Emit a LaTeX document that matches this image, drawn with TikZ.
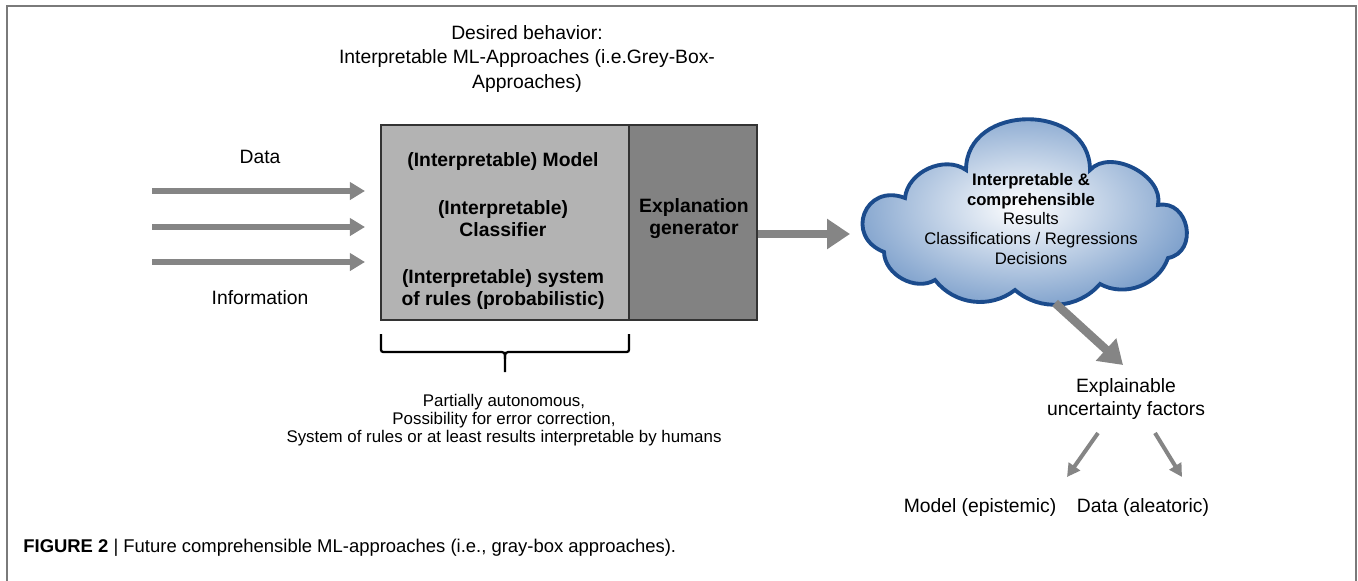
\documentclass[tikz,border=0pt]{standalone}
\usepackage{fontspec}
\setmainfont{Liberation Sans}
\usetikzlibrary{arrows.meta}
\definecolor{boxlight}{HTML}{B3B3B3}
\definecolor{boxdark}{HTML}{828282}
\definecolor{arrowgray}{HTML}{858585}
\definecolor{cloudline}{HTML}{1B4B8C}
\definecolor{cloudblue}{HTML}{7C9FCB}
\definecolor{framegray}{HTML}{7A7A7A}
\begin{document}
\begin{tikzpicture}[x=0.02cm, y=-0.02cm,
    txt/.style={font=\fontsize{11}{14}\selectfont, align=center, inner sep=0pt},
    boldtxt/.style={font=\fontsize{11}{12.5}\selectfont\bfseries, align=center, inner sep=0pt},
    inarrow/.style={draw=arrowgray, line width=0.12cm, -{Triangle[length=0.3cm, width=0.34cm]}},
    bigarrow/.style={draw=arrowgray, line width=0.17cm, -{Triangle[length=0.46cm, width=0.58cm]}},
    smallarrow/.style={draw=arrowgray, line width=0.08cm, -{Triangle[length=0.26cm, width=0.27cm]}}]
    \useasboundingbox (0,0) rectangle (1358,581);
    \draw[framegray, line width=1.5] (7,581) -- (7,6) -- (1356,6) -- (1356,581);
    % heading
    \node[txt, font=\fontsize{11}{14.2}\selectfont] (title) at (527,59)
        {Desired behavior:\\Interpretable ML-Approaches (i.e.Grey-Box-\\Approaches)};
    % the grey box
    \node[draw=black!80, line width=1.2, fill=boxlight, minimum width=4.96cm, minimum height=3.9cm, inner sep=0pt] (rulebox) at (505,222.5) {};
    \node[draw=black!80, line width=1.2, fill=boxdark, minimum width=2.56cm, minimum height=3.9cm, inner sep=0pt] (genbox) at (693,222.5) {};
    \node[boldtxt] (modeltxt) at (503,162) {(Interpretable) Model};
    \node[boldtxt] (classtxt) at (503,219) {(Interpretable)\\Classifier};
    \node[boldtxt] (rulestxt) at (503,289.5) {(Interpretable) system\\of rules (probabilistic)};
    \node[boldtxt] (gentxt) at (694,219) {Explanation\\generator};
    % inputs
    \node[txt] (data) at (260,157) {Data};
    \node[txt] (info) at (260,298) {Information};
    \coordinate (in1) at (152,191);
    \coordinate (in2) at (152,227);
    \coordinate (in3) at (152,262);
    \draw[inarrow, shorten >=0.3cm] (in1) -- (in1 -| rulebox.west);
    \draw[inarrow, shorten >=0.3cm] (in2) -- (in2 -| rulebox.west);
    \draw[inarrow, shorten >=0.3cm] (in3) -- (in3 -| rulebox.west);
    % brace under the box
    \draw[line width=1.3] (381,334) -- (381,347) .. controls (381,352) .. (386,352) -- (498,352)
        .. controls (505,352) .. (505,359) -- (505,372);
    \draw[line width=1.3] (629,334) -- (629,347) .. controls (629,352) .. (624,352) -- (512,352)
        .. controls (505,352) .. (505,359);
    \node[txt, font=\fontsize{9.6}{10.3}\selectfont] (brtxt) at (504,420)
        {Partially autonomous,\\Possibility for error correction,\\System of rules or at least results interpretable by humans};
    % cloud
    \shadedraw[draw=cloudline, line width=2.2, inner color=white, outer color=cloudblue]
        (884,252) to[bend left=90, looseness=1.9] (905,198)
        to[bend left=60] (966,170)
        to[bend left=90, looseness=1.4] (1090,170)
        to[bend left=75] (1158,205)
        to[bend left=90, looseness=1.5] (1168,258)
        to[bend left=50] (1100,284)
        to[bend left=45] (1015,290)
        to[bend left=45] (935,280)
        to[bend left=60] (884,252) -- cycle;
    \node[txt, font=\fontsize{9.5}{11.3}\selectfont] (cloudtxt) at (1031,219)
        {\textbf{Interpretable \&}\\\textbf{comprehensible}\\Results\\Classifications / Regressions\\Decisions};
    \coordinate (genout) at (758,234);
    \coordinate (cloudin) at (850,234);
    \draw[bigarrow] (genout) -- (cloudin);
    % uncertainty
    \node[txt, font=\fontsize{11}{13.6}\selectfont] (uncert) at (1126,399) {Explainable\\uncertainty factors};
    \coordinate (cloudout) at (1055,303);
    \coordinate (uncertin) at (1123,365);
    \draw[bigarrow] (cloudout) -- (uncertin);
    \node[txt] (model) at (980,507) {Model (epistemic)};
    \node[txt] (aleat) at (1143,507) {Data (aleatoric)};
    \coordinate (forkl) at (1098,433);
    \coordinate (forkr) at (1155,433);
    \coordinate (modelin) at (1067,477);
    \coordinate (aleatin) at (1182,477);
    \draw[smallarrow] (forkl) -- (modelin);
    \draw[smallarrow] (forkr) -- (aleatin);
    % caption
    \node[anchor=west, inner sep=0pt, font=\fontsize{10.5}{12}\selectfont] (caption) at (23,548)
        {\textbf{FIGURE 2} | Future comprehensible ML-approaches (i.e., gray-box approaches).};
\end{tikzpicture}
\end{document}
